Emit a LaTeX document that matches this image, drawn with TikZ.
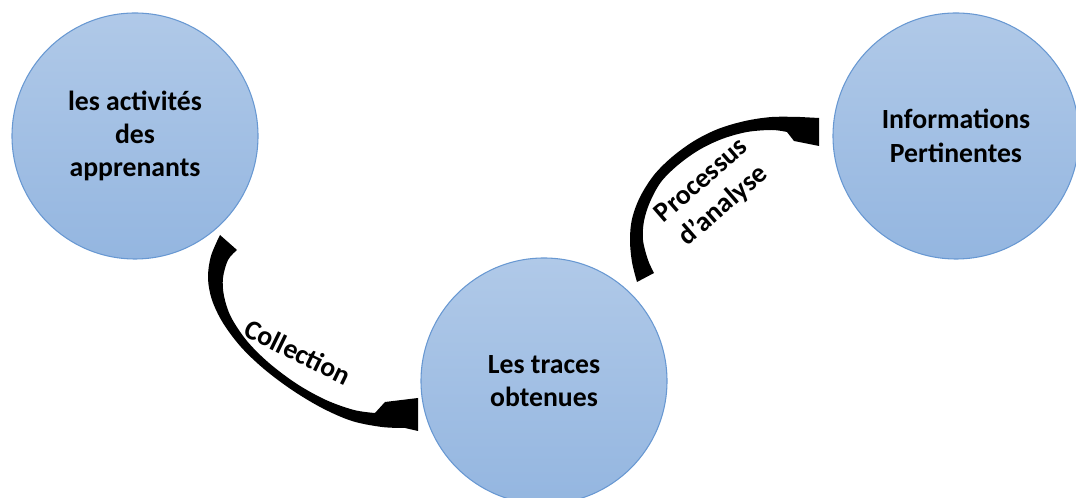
\documentclass[tikz,border=0pt]{standalone}
\usepackage{fontspec}
\setmainfont{Carlito}
\tikzset{
  stage/.style={circle, minimum size=246*0.75pt, inner sep=0pt,
    draw=circleedge, line width=0.8pt,
    top color=circletop, bottom color=circlebottom,
    font=\bfseries\fontsize{20.8}{25}\selectfont, align=center, text=black},
  steplabel/.style={font=\bfseries\fontsize{20.8}{25}\selectfont, align=center, inner sep=0pt},
  bandarrow/.style={fill=black, draw=none}
}
\definecolor{circletop}{RGB}{176,201,232}
\definecolor{circlebottom}{RGB}{148,182,224}
\definecolor{circleedge}{RGB}{104,152,210}
\begin{document}
\begin{tikzpicture}[x=0.75pt, y=-0.75pt]
\useasboundingbox (0,0) rectangle (1076,498);

% the three stages
\node[stage] (act)   at (135,136) {les activités\\des\\apprenants};
\node[stage] (trace) at (544,381) {Les traces\\obtenues};
\node[stage] (info)  at (956,136) {Informations\\Pertinentes};

% tapered curved band arrow: activities -> traces
\fill[bandarrow]
  plot[smooth, tension=0.55] coordinates {(220,235) (211,256) (208,278) (212,300) (223,323) (241,347) (264,369) (292,390) (322,408) (352,421) (382,427) (405,428)}
  -- (418,431) -- (418,398) -- (385,402)
  -- plot[smooth, tension=0.55] coordinates {(375,413) (354,410) (326,400) (297,384) (269,363) (247,341) (231,317) (224,296) (223,278) (228,260) (237,250)}
  -- cycle;

% tapered curved band arrow: traces -> information
\fill[bandarrow]
  plot[smooth, tension=0.55] coordinates {(637,282) (632,262) (630,240) (632,219) (640,197) (654,175) (672,157) (694,141) (718,129) (745,121) (772,117) (800,117)}
  -- (819,118) -- (819,146) -- (794,141)
  -- plot[smooth, tension=0.55] coordinates {(787,132) (772,130) (747,132) (722,139) (699,150) (678,165) (661,182) (650,202) (644,221) (643,240) (648,260) (654,273)}
  -- cycle;

% arrow labels
\node[steplabel, rotate=-26] (collect) at (298,352) {Collection};
\node[steplabel, rotate=41] (analyse) at (713,194) {Processus\\d’analyse};
\end{tikzpicture}
\end{document}
